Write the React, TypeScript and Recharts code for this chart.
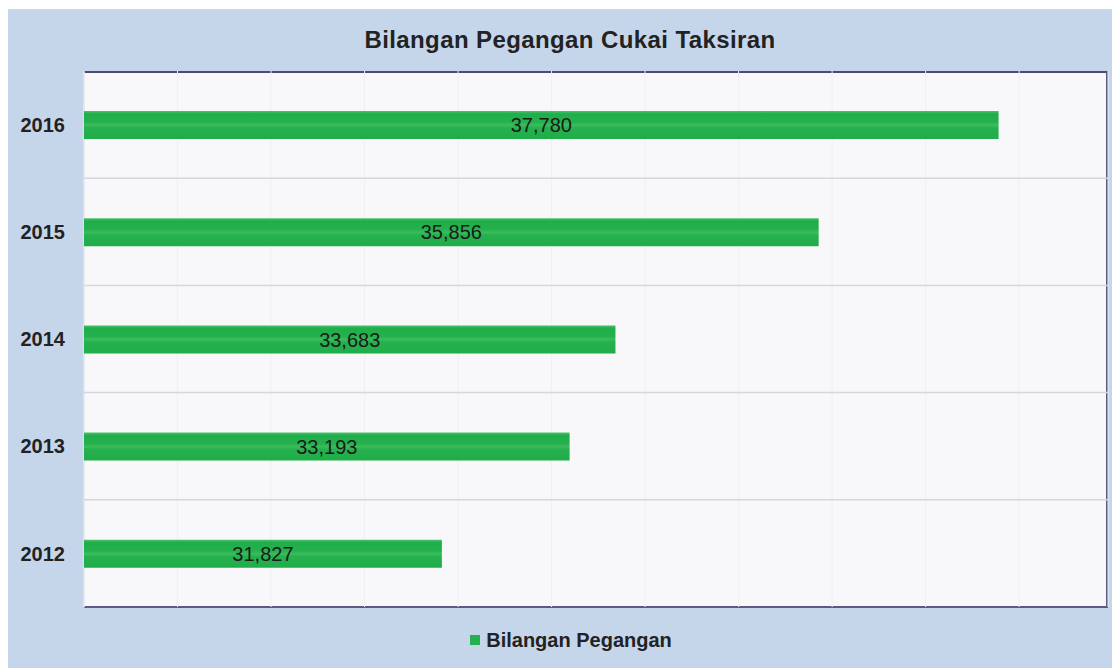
import { BarChart, Bar, XAxis, YAxis, CartesianGrid, LabelList, Legend } from 'recharts'

const years = ['2016', '2015', '2014', '2013', '2012']
const holdings = [37780, 35856, 33683, 33193, 31827]
const xTicks = [28000, 29000, 30000, 31000, 32000, 33000, 34000, 35000, 36000, 37000, 38000, 39000]

const data = years.map((year, i) => ({ year, value: holdings[i] }))

const font = '"Liberation Sans", Arial, sans-serif'

function LegendContent() {
  return (
    <div
      style={{
        display: 'flex',
        justifyContent: 'center',
        alignItems: 'center',
        paddingTop: 22,
        paddingLeft: 26,
        fontFamily: font,
        fontWeight: 'bold',
        fontSize: 20,
        lineHeight: '22px',
        color: '#222',
      }}
    >
      <span style={{ width: 10, height: 10, background: '#22b14c', marginRight: 6 }} />
      Bilangan Pegangan
    </div>
  )
}

export default function App() {
  return (
    <div
      style={{
        position: 'relative',
        width: 1112,
        height: 659,
        marginTop: 1,
        background: '#c5d5ea',
        fontFamily: font,
      }}
    >
      <div
        style={{
          position: 'absolute',
          left: 262,
          top: 17,
          width: 600,
          textAlign: 'center',
          fontWeight: 'bold',
          fontSize: 24,
          lineHeight: '28px',
          letterSpacing: 0.4,
          color: '#222',
        }}
      >
        Bilangan Pegangan Cukai Taksiran
      </div>
      {/* plot frame */}
      <div
        style={{
          position: 'absolute',
          left: 76,
          top: 62,
          width: 1024,
          height: 537,
          boxSizing: 'border-box',
          background: '#f8f8fa',
          borderTop: '2px solid #4a4a78',
          borderRight: '2px solid #5a5a82',
          borderBottom: '2px solid #5a5a82',
          borderLeft: '1px solid #e2e2ea',
        }}
      />
      <BarChart
        width={1112}
        height={659}
        data={data}
        layout="vertical"
        margin={{ top: 62, right: 12, bottom: 21, left: 0 }}
      >
        <defs>
          <linearGradient id="barFill" x1="0" y1="0" x2="0" y2="1">
            <stop offset="0" stopColor="#4cc26a" />
            <stop offset="0.1" stopColor="#1fae4a" />
            <stop offset="0.4" stopColor="#25b14e" />
            <stop offset="0.5" stopColor="#3dbc5d" />
            <stop offset="0.6" stopColor="#25b14e" />
            <stop offset="1" stopColor="#1fad49" />
          </linearGradient>
        </defs>
        <CartesianGrid horizontal={false} stroke="#f0f0f3" />
        <CartesianGrid vertical={false} stroke="#d6d6dc" strokeWidth={1.5}
          horizontalCoordinatesGenerator={({ offset }: any) =>
            years.slice(1).map((_, i) => offset.top + (offset.height * (i + 1)) / years.length)
          }
        />
        <XAxis type="number" domain={[28000, 38950]} ticks={xTicks.slice(0, -1)} hide />
        <YAxis
          type="category"
          dataKey="year"
          width={76}
          axisLine={false}
          tickLine={false}
          tickSize={0}
          tickMargin={19}
          tick={{ fill: '#222', fontSize: 20, fontWeight: 'bold', fontFamily: font }}
        />
        <Legend verticalAlign="bottom" height={40} content={<LegendContent />} />
        <Bar dataKey="value" name="Bilangan Pegangan" fill="url(#barFill)" barSize={28} isAnimationActive={false}>
          <LabelList
            dataKey="value"
            position="center"
            formatter={(v: any) => Number(v).toLocaleString('en-US')}
            style={{ fill: '#1a1a1a', fontSize: 20, fontFamily: font }}
          />
        </Bar>
      </BarChart>
    </div>
  )
}
